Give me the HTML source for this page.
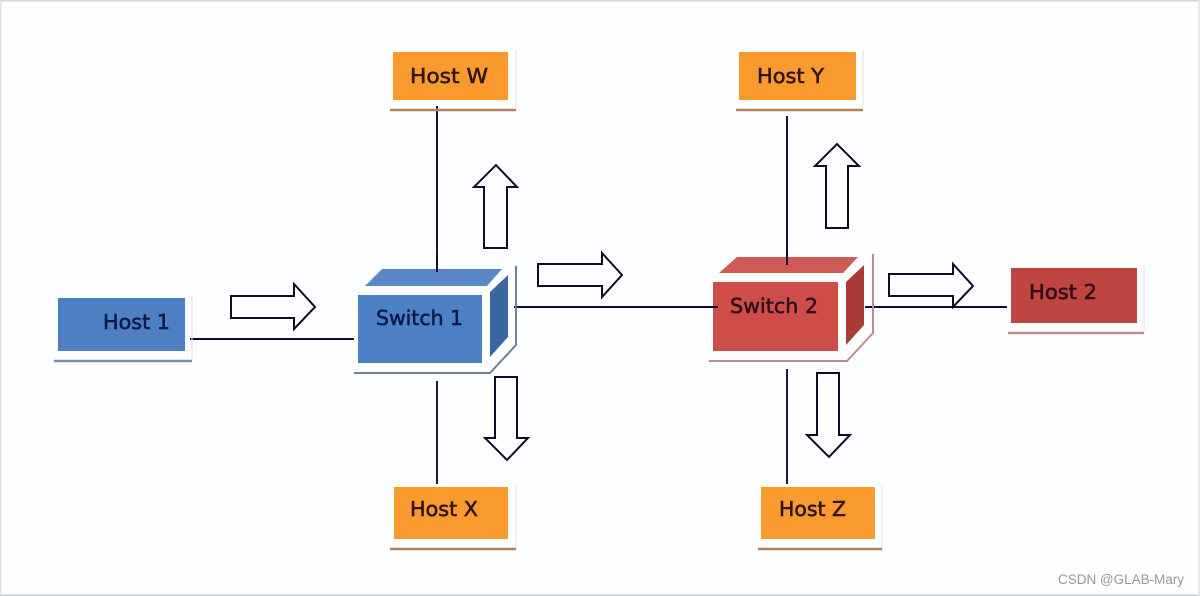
<!DOCTYPE html>
<html><head><meta charset="utf-8">
<style>html,body{margin:0;padding:0;background:#fdfeff}svg{display:block}</style></head>
<body>
<svg width="1200" height="596" viewBox="0 0 1200 596" xmlns="http://www.w3.org/2000/svg" font-family="'DejaVu Sans','Liberation Sans',sans-serif">
<defs><filter id="b" x="-5%" y="-5%" width="110%" height="110%"><feGaussianBlur stdDeviation="0.35"/></filter></defs>
<rect width="1200" height="596" fill="#fdfeff"/>
<rect x="0" y="0" width="1200" height="1.5" fill="#d5dadb"/>
<rect x="0" y="0" width="1.5" height="596" fill="#dfe2e6"/>
<rect x="0" y="594.5" width="1200" height="1.5" fill="#c9ced4"/>
<rect x="1198" y="0" width="2" height="596" fill="#ece6e8"/>

<g filter="url(#b)">
<!-- Connectors -->
<g stroke="#101030" stroke-width="1.9" fill="none">
<path d="M190 339H354"/>
<path d="M437 106V272"/>
<path d="M437 381V484"/>
<path d="M514 307H718"/>
<path d="M787 116V265"/>
<path d="M787 369V484"/>
<path d="M865 307H1007"/>
</g>

<!-- Host shadows -->
<g fill="none" stroke-width="2.6">
<path d="M54 361H192" stroke="#7a8dab"/>
<path d="M390 110H516" stroke="#b0805f"/>
<path d="M736 110H863" stroke="#b0805f"/>
<path d="M390 549H516" stroke="#b0805f"/>
<path d="M758 549H882" stroke="#b0805f"/>
<path d="M1008 333H1144" stroke="#bd8d8d"/>
</g>
<g fill="none" stroke="#e4e2e2" stroke-width="1">
<path d="M192 296V360"/>
<path d="M516 50V109"/>
<path d="M863 50V109"/>
<path d="M516 485V548"/>
<path d="M882 485V548"/>
<path d="M1144 266V332"/>
</g>

<!-- Hosts -->
<rect x="58" y="298" width="127" height="53" fill="#4d7fc2"/>
<rect x="393" y="52" width="115" height="48" fill="#f89a2e"/>
<rect x="739" y="52" width="117" height="48" fill="#f89a2e"/>
<rect x="394" y="487" width="114" height="52" fill="#f89a2e"/>
<rect x="761" y="487" width="114" height="52" fill="#f89a2e"/>
<rect x="1011" y="268" width="126" height="55" fill="#bf4440"/>

<!-- Switch 1 -->
<path d="M354 373H490L516 345V266" fill="none" stroke="#6f8099" stroke-width="2"/>
<path d="M358 363H482V295H358Z" fill="#4d80c4"/>
<path d="M365 286L382 269H502L487 286Z" fill="#5a88c6"/>
<path d="M490 292L508 275V337L490 357Z" fill="#39679f"/>
<!-- Switch 2 -->
<path d="M709 361H847L873 333V254" fill="none" stroke="#bd8d8d" stroke-width="2"/>
<path d="M713 351H838V282H713Z" fill="#ce4d49"/>
<path d="M719 273L737 257H858L843 273Z" fill="#cf5a57"/>
<path d="M846 282L864 265V325L846 345Z" fill="#a83a36"/>
<g stroke="#101030" stroke-width="1.9" fill="none">
<path d="M437 254V272"/>
<path d="M787 250V265"/>
<path d="M700 307H718"/>
</g>

<!-- Block arrows -->
<g fill="#fdfeff" stroke="#101028" stroke-width="2" stroke-linejoin="miter">
<path d="M231 296H294V284L315 307L294 329V318H231Z"/>
<path d="M538 264H602V253L622 275L602 297V286H538Z"/>
<path d="M889 274H953V264L973 286L953 307V296H889Z"/>
<path d="M484 248V187H474L496 165L517 187H507V248Z"/>
<path d="M826 228V166H815L837 144L859 166H848V228Z"/>
<path d="M495 377V438H485L507 460L528 438H517V377Z"/>
<path d="M817 373V435H807L829 457L850 435H839V373Z"/>
</g>

<!-- Labels -->
<g font-size="20" stroke-width="0.55">
<text x="103" y="329" textLength="67" lengthAdjust="spacingAndGlyphs" fill="#0a1a48" stroke="#0a1a48">Host 1</text>
<text x="376" y="325" textLength="87" lengthAdjust="spacingAndGlyphs" fill="#0a1a48" stroke="#0a1a48">Switch 1</text>
<text x="410" y="83" textLength="78" lengthAdjust="spacingAndGlyphs" fill="#2e140e" stroke="#2e140e">Host W</text>
<text x="757" y="83" textLength="67" lengthAdjust="spacingAndGlyphs" fill="#2e140e" stroke="#2e140e">Host Y</text>
<text x="410" y="516" textLength="68" lengthAdjust="spacingAndGlyphs" fill="#2e140e" stroke="#2e140e">Host X</text>
<text x="779" y="516" textLength="67" lengthAdjust="spacingAndGlyphs" fill="#2e140e" stroke="#2e140e">Host Z</text>
<text x="730" y="313" textLength="88" lengthAdjust="spacingAndGlyphs" fill="#300c1c" stroke="#300c1c">Switch 2</text>
<text x="1029" y="299" textLength="68" lengthAdjust="spacingAndGlyphs" fill="#300c1c" stroke="#300c1c">Host 2</text>
</g>
</g>
<text x="1058" y="584" font-family="'Liberation Sans',sans-serif" font-size="13.5" fill="#96989c" textLength="126" lengthAdjust="spacingAndGlyphs">CSDN @GLAB-Mary</text>
</svg>
</body></html>
